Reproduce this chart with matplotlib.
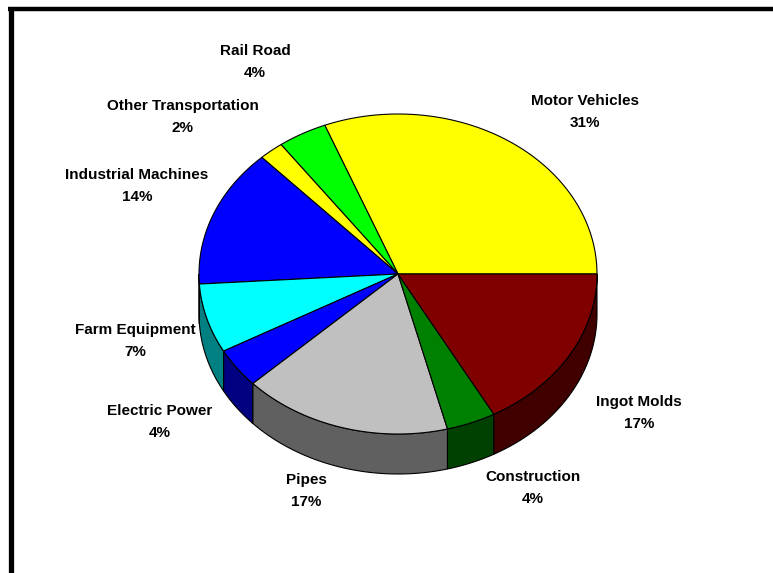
#!/usr/bin/env python3
"""Excel-style 3D pie: end uses of castings."""

import numpy as np
import matplotlib
matplotlib.use('Agg')
import matplotlib.pyplot as plt
from matplotlib.patches import Polygon
from matplotlib.colors import to_rgb

categories = ['Motor Vehicles', 'Rail Road', 'Other Transportation', 'Industrial Machines',
              'Farm Equipment', 'Electric Power', 'Pipes', 'Construction', 'Ingot Molds']
shares = [31, 4, 2, 14, 7, 4, 17, 4, 17]
colors = ['#FFFF00', '#00FF00', '#FFFF00', '#0000FF', '#00FFFF',
          '#0000FF', '#C0C0C0', '#008000', '#800000']

# label anchor (pixel coords, name line) for each slice
label_xy = [(585, 101), (255, 51), (183, 106), (137, 175), (135, 330),
            (160, 411), (306, 480), (533, 477), (639, 402)]

# pie geometry in pixels
cx, cy = 398, 274
rx, ry = 199, 160
depth = 40


def darker(c, f=0.5):
    r, g, b = to_rgb(c)
    return (r * f, g * f, b * f)


def arc(a0, a1, n=80):
    t = np.radians(np.linspace(a0, a1, n))
    return np.column_stack([cx + rx * np.cos(t), cy - ry * np.sin(t)])


fig = plt.figure(figsize=(7.73, 5.73), dpi=100)
ax = fig.add_axes([0, 0, 1, 1])
ax.set_xlim(0, 773)
ax.set_ylim(573, 0)
ax.axis('off')

total = float(sum(shares))
bounds = np.concatenate([[0], np.cumsum(shares)]) / total * 360.0

# ── side walls (front half only) ──────────────────────────────────────
for i, col in enumerate(colors):
    s0, s1 = max(bounds[i], 180.0), min(bounds[i + 1], 360.0)
    if s1 <= s0:
        continue
    top = arc(s0, s1)
    bot = top + [0, depth]
    ax.add_patch(Polygon(np.vstack([top, bot[::-1]]), closed=True,
                         facecolor=darker(col), edgecolor='black', lw=0.8, zorder=1))

# ── top face ──────────────────────────────────────────────────────────
for i, col in enumerate(colors):
    pts = np.vstack([[cx, cy], arc(bounds[i], bounds[i + 1])])
    ax.add_patch(Polygon(pts, closed=True, facecolor=col,
                         edgecolor='black', lw=0.8, zorder=2))

# ── labels ────────────────────────────────────────────────────────────
font = dict(family=['Liberation Sans', 'DejaVu Sans'], weight='bold', size=11)
for name, v, (x, y) in zip(categories, shares, label_xy):
    ax.text(x, y, name, ha='center', va='center', **font)
    ax.text(x, y + 22, f'{v}%', ha='center', va='center', **font)

# frame: top and left border
ax.plot([8, 773], [9, 9], color='black', lw=3.2, solid_capstyle='butt', clip_on=False)
ax.plot([10.5, 10.5], [7, 573], color='black', lw=3.8, solid_capstyle='butt', clip_on=False)

fig.savefig('out.png', dpi=100)
plt.close(fig)
